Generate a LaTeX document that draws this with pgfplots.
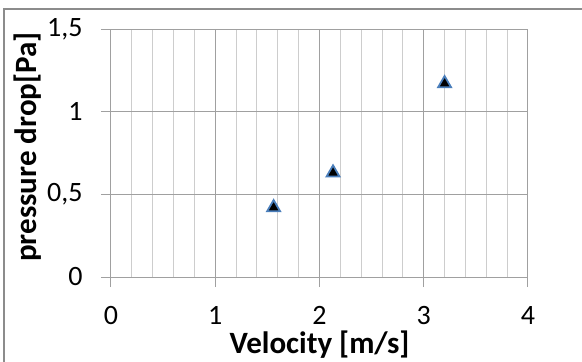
\documentclass[border=0pt]{standalone}
\usepackage{fontspec}
\setmainfont{Carlito}
\usepackage{pgfplots}
\pgfplotsset{compat=1.18}
\definecolor{gridmaj}{RGB}{160,160,160}
\definecolor{gridmin}{RGB}{205,205,205}
\definecolor{frame}{RGB}{140,140,140}
\definecolor{mkedge}{RGB}{74,126,187}
\begin{document}
\begin{tikzpicture}
\path[use as bounding box] (-111pt,-85pt) rectangle (471pt,277pt);
\draw[color=frame, line width=2pt] (-107pt,-85pt) -- (-107pt,268pt) -- (471pt,268pt);
\begin{axis}[at={(0,0)}, anchor=south west, scale only axis,
  width=417pt, height=248pt,
  xmin=0, xmax=4, ymin=0, ymax=1.5,
  xtick={0,1,2,3,4}, ytick={0,0.5,1,1.5},
  minor x tick num=4,
  grid=both,
  major grid style={gridmaj, line width=1pt},
  minor grid style={gridmin, line width=1pt},
  axis line style={gridmaj, line width=1pt},
  tick align=outside, major tick length=10pt, minor tick length=0pt,
  tick style={gridmaj, line width=1pt},
  xtick pos=bottom, ytick pos=left,
  /pgf/number format/use comma,
  /pgf/number format/assume math mode=true,
  ticklabel style={font=\fontsize{28}{28}\selectfont},
  xticklabel style={yshift=-16pt},
  yticklabel style={xshift=-15pt},
  xlabel={Velocity [m/s]},
  ylabel={pressure drop[Pa]},
  label style={font=\bfseries\fontsize{31}{31}\selectfont},
  xlabel style={at={(axis description cs:0.5,-0.274)}, anchor=center},
  ylabel style={at={(axis description cs:-0.199,0.524)}, anchor=center},
]
\addplot[only marks, mark=triangle*, mark size=7.5pt,
  mark options={fill=black, draw=mkedge, line width=1.8pt}]
  coordinates {(1.56,0.42) (2.13,0.63) (3.20,1.17)};
\end{axis}
\end{tikzpicture}
\end{document}
